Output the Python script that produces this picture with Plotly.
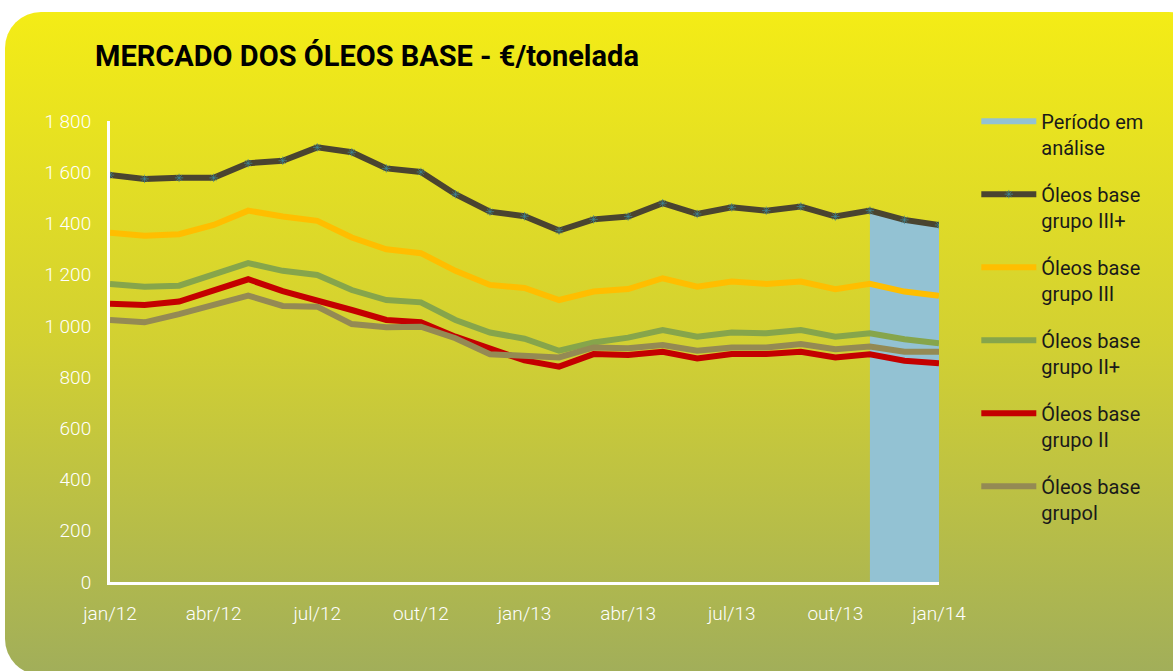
import base64
import plotly.graph_objects as go

months = ["jan/12", "fev/12", "mar/12", "abr/12", "mai/12", "jun/12", "jul/12", "ago/12",
          "set/12", "out/12", "nov/12", "dez/12", "jan/13", "fev/13", "mar/13", "abr/13",
          "mai/13", "jun/13", "jul/13", "ago/13", "set/13", "out/13", "nov/13", "dez/13", "jan/14"]

grupo_III_plus = [1589, 1574, 1578, 1578, 1635, 1645, 1697, 1678, 1615, 1601, 1514, 1446, 1428,
                  1372, 1416, 1427, 1479, 1437, 1463, 1450, 1466, 1427, 1450, 1414, 1394]
grupo_III = [1364, 1352, 1358, 1394, 1450, 1427, 1410, 1345, 1299, 1284, 1215, 1160, 1148,
             1101, 1134, 1144, 1186, 1153, 1173, 1164, 1173, 1143, 1164, 1134, 1118]
grupo_II_plus = [1164, 1153, 1157, 1199, 1245, 1215, 1199, 1140, 1101, 1092, 1023, 974, 950,
                 903, 935, 954, 984, 958, 974, 971, 984, 958, 971, 948, 932]
grupo_II = [1086, 1082, 1095, 1140, 1182, 1136, 1101, 1062, 1023, 1014, 958, 913, 865,
            841, 890, 886, 899, 873, 890, 890, 899, 877, 889, 864, 854]
grupo_I = [1023, 1014, 1046, 1079, 1118, 1078, 1075, 1007, 995, 997, 952, 889, 883,
           877, 916, 913, 925, 903, 916, 916, 929, 909, 919, 899, 899]

periodo_meses = ["nov/13", "dez/13", "jan/14"]
periodo_valores = [1450, 1414, 1394]

tick_months = ["jan/12", "abr/12", "jul/12", "out/12", "jan/13", "abr/13", "jul/13", "out/13", "jan/14"]
y_ticks = [0, 200, 400, 600, 800, 1000, 1200, 1400, 1600, 1800]

idx = {m: i for i, m in enumerate(months)}
xs = list(range(len(months)))

# gradient rounded background as an SVG image
svg = """<svg xmlns='http://www.w3.org/2000/svg' width='1173' height='671' viewBox='0 0 1173 671'>
<defs><linearGradient id='g' x1='0' y1='0' x2='0' y2='1'>
<stop offset='0' stop-color='#F4EC16'/>
<stop offset='0.5' stop-color='#D2D032'/>
<stop offset='1' stop-color='#A1AE5A'/>
</linearGradient></defs>
<rect x='0' y='0' width='1173' height='671' fill='#FFFFFF'/>
<rect x='5' y='12' width='1200' height='663' rx='36' ry='36' fill='url(#g)'/>
</svg>"""
src = "data:image/svg+xml;base64," + base64.b64encode(svg.encode()).decode()

fig = go.Figure()

legend_font = dict(family="Roboto", size=20, color="#1A1A1A")
tick_font = dict(family="Roboto", size=19, color="white", weight=300)

fig.add_trace(go.Scatter(
    x=[idx[m] for m in periodo_meses], y=periodo_valores,
    name="Período em<br>análise", mode="none", fill="tozeroy",
    fillcolor="#93C2D3", legendgroup="p"))

series = [
    ("Óleos base<br>grupo III+", grupo_III_plus, "#4A4430", "g1"),
    ("Óleos base<br>grupo III", grupo_III, "#FFBE00", "g2"),
    ("Óleos base<br>grupo II+", grupo_II_plus, "#86A54B", "g3"),
    ("Óleos base<br>grupo II", grupo_II, "#C40000", "g4"),
    ("Óleos base<br>grupol", grupo_I, "#948A54", "g5"),
]
for name, vals, color, grp in series:
    if grp == "g1":
        fig.add_trace(go.Scatter(
            x=xs, y=vals, name=name, mode="lines+markers", legendgroup=grp,
            line=dict(color=color, width=6),
            marker=dict(symbol="asterisk-open", size=7, color="rgba(62,138,153,0.7)",
                        line=dict(color="rgba(62,138,153,0.7)", width=1))))
    else:
        fig.add_trace(go.Scatter(
            x=xs, y=vals, name=name, mode="lines", legendgroup=grp,
            line=dict(color=color, width=6)))

fig.update_layout(
    width=1173, height=671,
    margin=dict(l=110, r=234, t=121, b=89),
    paper_bgcolor="white",
    plot_bgcolor="rgba(0,0,0,0)",
    separators=", ",
    images=[dict(source=src, xref="paper", yref="paper", x=-110/829, y=1+121/461,
                 sizex=1173/829, sizey=671/461, xanchor="left", yanchor="top",
                 sizing="stretch", layer="below")],
    title=dict(text="<b>MERCADO DOS ÓLEOS BASE - €/tonelada</b>",
               x=95/1173, xref="container", xanchor="left",
               y=1 - 56/671, yref="container", yanchor="middle",
               font=dict(family="Roboto", size=29, color="#000000")),
    showlegend=True,
    legend=dict(x=1.045, xanchor="left", y=1.042, yanchor="top",
                bgcolor="rgba(0,0,0,0)", font=legend_font, maxheight=620,
                itemwidth=55, tracegroupgap=18, valign="top",
                traceorder="grouped"),
    xaxis=dict(range=[0, 24], tickvals=[idx[m] for m in tick_months], ticktext=tick_months,
               showgrid=False, zeroline=False, showline=True, linecolor="white", linewidth=3,
               ticks="", ticklabelstandoff=12, tickfont=tick_font),
    yaxis=dict(range=[0, 1800], tickvals=y_ticks, tickformat=",d",
               showgrid=False, zeroline=False, showline=True, linecolor="white", linewidth=3,
               ticks="", ticklabelstandoff=12, tickfont=tick_font),
)

fig.write_html("out.html", config={"displayModeBar": False},
               post_script="document.body.style.margin='0';")
